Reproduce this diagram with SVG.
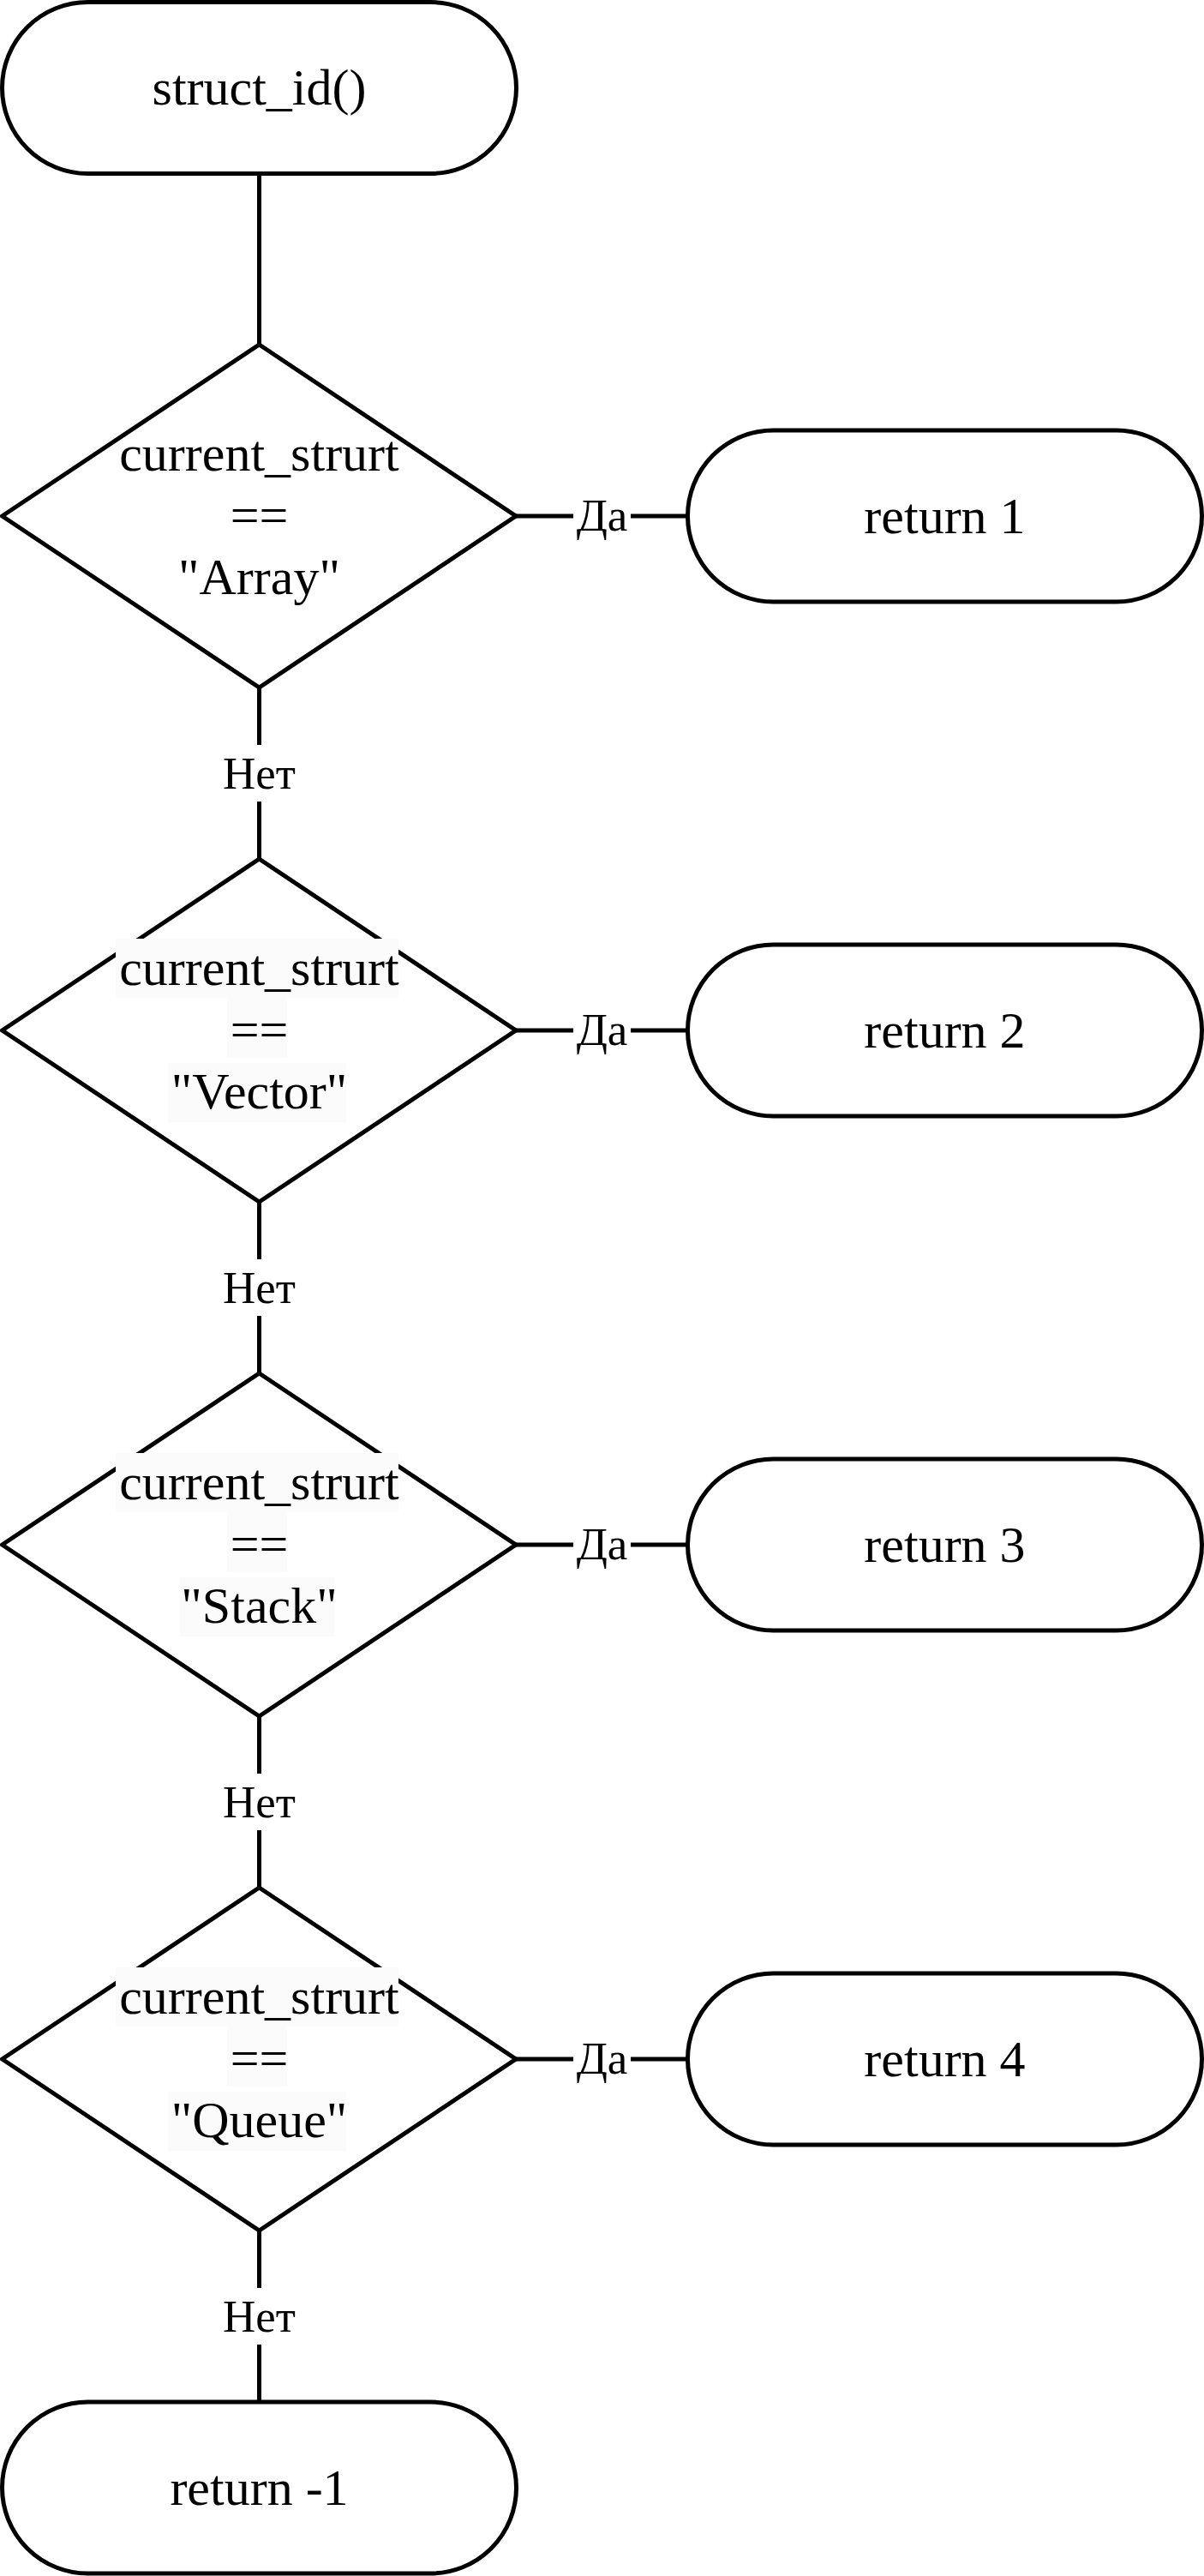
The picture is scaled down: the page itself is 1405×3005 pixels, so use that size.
<svg xmlns="http://www.w3.org/2000/svg" width="1405" height="3005" viewBox="0 0 1405 3005">
<style>
.shape{fill:#ffffff;stroke:#000000;stroke-width:5}
.edge{fill:none;stroke:#000000;stroke-width:5}
.t{font-family:"Liberation Serif","Times New Roman",serif;font-size:60px;fill:#000000;text-anchor:middle}
.lbl{font-family:"Liberation Serif","Times New Roman",serif;font-size:53px;fill:#000000;text-anchor:middle}
.hl{fill:#fbfbfb}
.lblbg{fill:#ffffff}
</style>
<rect width="1405" height="3005" fill="#ffffff"/>
<g id="connectors">
<line class="edge" x1="302.5" y1="202.5" x2="302.5" y2="402"/>
<line class="edge" x1="302.5" y1="802" x2="302.5" y2="1002"/>
<line class="edge" x1="302.5" y1="1402" x2="302.5" y2="1602"/>
<line class="edge" x1="302.5" y1="2002" x2="302.5" y2="2202"/>
<line class="edge" x1="302.5" y1="2602" x2="302.5" y2="2802"/>
<line class="edge" x1="602" y1="602" x2="802.5" y2="602"/>
<line class="edge" x1="602" y1="1202" x2="802.5" y2="1202"/>
<line class="edge" x1="602" y1="1802" x2="802.5" y2="1802"/>
<line class="edge" x1="602" y1="2402" x2="802.5" y2="2402"/>
<g id="labels">
<rect class="lblbg" x="669" y="575" width="67" height="54"/>
<text class="lbl" x="702.5" y="619">Да</text>
<rect class="lblbg" x="669" y="1175" width="67" height="54"/>
<text class="lbl" x="702.5" y="1219">Да</text>
<rect class="lblbg" x="669" y="1775" width="67" height="54"/>
<text class="lbl" x="702.5" y="1819">Да</text>
<rect class="lblbg" x="669" y="2375" width="67" height="54"/>
<text class="lbl" x="702.5" y="2419">Да</text>
<rect class="lblbg" x="255" y="869" width="95" height="66"/>
<text class="lbl" x="302.5" y="920">Нет</text>
<rect class="lblbg" x="255" y="1469" width="95" height="66"/>
<text class="lbl" x="302.5" y="1520">Нет</text>
<rect class="lblbg" x="255" y="2069" width="95" height="66"/>
<text class="lbl" x="302.5" y="2120">Нет</text>
<rect class="lblbg" x="255" y="2669" width="95" height="66"/>
<text class="lbl" x="302.5" y="2720">Нет</text>
</g>
</g>
<g id="start">
<rect class="shape" x="2.5" y="2.5" width="600" height="200" rx="100" ry="100"/>
<text class="t" x="302.5" y="122">struct_id()</text>
</g>
<g id="cond1">
<polygon class="shape" points="302.5,402 602,602 302.5,802 2.5,602"/>
<text class="t" x="302.5" y="549">current_strurt</text>
<text class="t" x="302.5" y="621">==</text>
<text class="t" x="302.5" y="693">"Array"</text>
</g>
<g id="ret1">
<rect class="shape" x="802.5" y="502" width="600" height="200" rx="100" ry="100"/>
<text class="t" x="1102.5" y="622">return 1</text>
</g>
<g id="cond2">
<polygon class="shape" points="302.5,1002 602,1202 302.5,1402 2.5,1202"/>
<rect class="hl" x="135" y="1095" width="330" height="69"/>
<rect class="hl" x="265" y="1164" width="70" height="70"/>
<rect class="hl" x="196" y="1240" width="208" height="69"/>
<text class="t" x="302.5" y="1149">current_strurt</text>
<text class="t" x="302.5" y="1221">==</text>
<text class="t" x="302.5" y="1293">"Vector"</text>
</g>
<g id="ret2">
<rect class="shape" x="802.5" y="1102" width="600" height="200" rx="100" ry="100"/>
<text class="t" x="1102.5" y="1222">return 2</text>
</g>
<g id="cond3">
<polygon class="shape" points="302.5,1602 602,1802 302.5,2002 2.5,1802"/>
<rect class="hl" x="135" y="1695" width="330" height="69"/>
<rect class="hl" x="265" y="1764" width="70" height="70"/>
<rect class="hl" x="210" y="1840" width="180" height="69"/>
<text class="t" x="302.5" y="1749">current_strurt</text>
<text class="t" x="302.5" y="1821">==</text>
<text class="t" x="302.5" y="1893">"Stack"</text>
</g>
<g id="ret3">
<rect class="shape" x="802.5" y="1702" width="600" height="200" rx="100" ry="100"/>
<text class="t" x="1102.5" y="1822">return 3</text>
</g>
<g id="cond4">
<polygon class="shape" points="302.5,2202 602,2402 302.5,2602 2.5,2402"/>
<rect class="hl" x="135" y="2295" width="330" height="69"/>
<rect class="hl" x="265" y="2364" width="70" height="70"/>
<rect class="hl" x="196" y="2440" width="208" height="69"/>
<text class="t" x="302.5" y="2349">current_strurt</text>
<text class="t" x="302.5" y="2421">==</text>
<text class="t" x="302.5" y="2493">"Queue"</text>
</g>
<g id="ret4">
<rect class="shape" x="802.5" y="2302" width="600" height="200" rx="100" ry="100"/>
<text class="t" x="1102.5" y="2422">return 4</text>
</g>
<g id="end">
<rect class="shape" x="2.5" y="2802" width="600" height="200" rx="100" ry="100"/>
<text class="t" x="302.5" y="2922">return -1</text>
</g>
</svg>
